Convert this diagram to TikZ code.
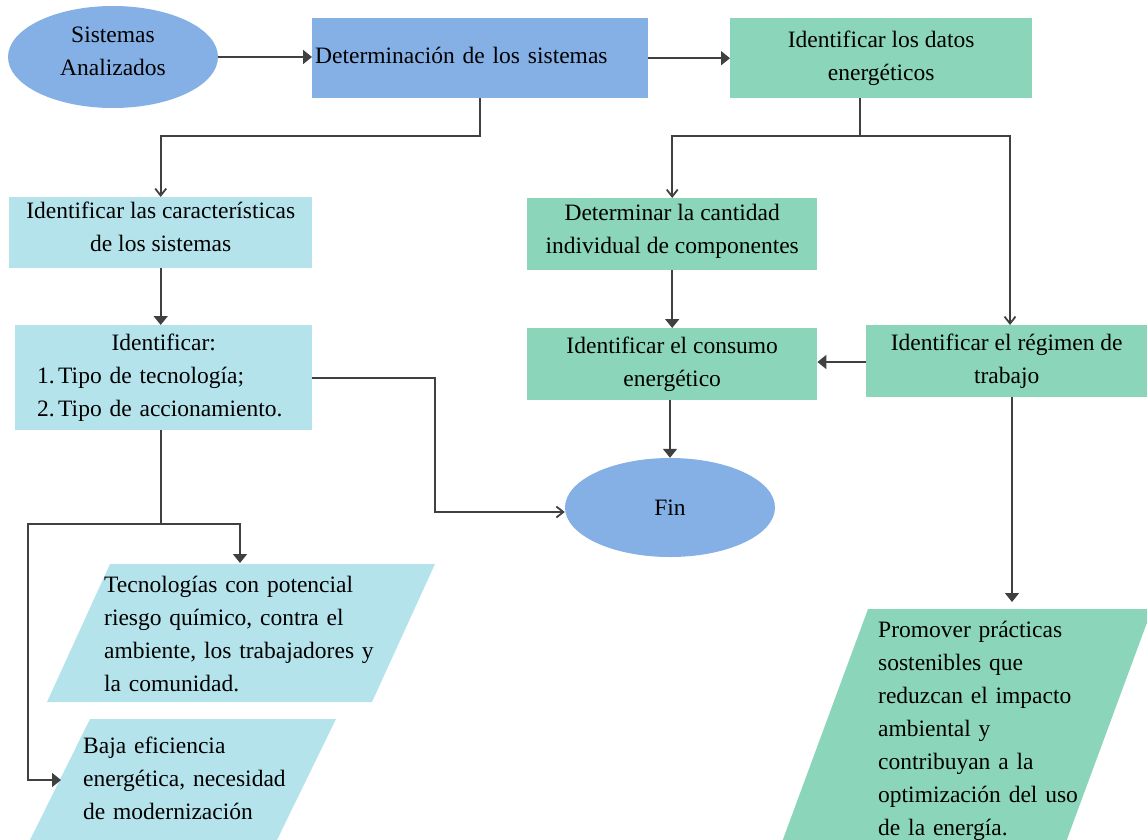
\documentclass[tikz,border=0pt]{standalone}
\usepackage{fontspec}
\setmainfont{Liberation Serif}
\usetikzlibrary{shapes.geometric,arrows.meta,calc}
\definecolor{cblue}{HTML}{84B0E6}
\definecolor{ccyan}{HTML}{B5E3EC}
\definecolor{cgreen}{HTML}{8BD5BB}
\definecolor{cline}{HTML}{404040}
\begin{document}
\begin{tikzpicture}[x=1pt,y=-1pt,
  txt/.style={font=\fontsize{23.5pt}{33pt}\selectfont, text=black},
  box/.style={txt, rectangle, inner sep=2pt, align=center, anchor=north west},
  oval/.style={txt, ellipse, inner sep=0pt, align=center, fill=cblue},
  para/.style={txt, anchor=base west, align=left, inner sep=0pt},
  conn/.style={draw=cline, line width=1.8pt},
  fa/.style={conn, -{Triangle[width=14pt,length=9pt]}},
  oa/.style={conn, -{Straight Barb[width=11pt,length=7pt]}},
]
\useasboundingbox (0,0) rectangle (1147,839);

% ovals
\node[oval, minimum width=210pt, minimum height=102pt, text depth=12pt] (sa) at (113,57) {Sistemas\\Analizados};
\node[oval, minimum width=210pt, minimum height=99pt] (fin) at (670,507.5) {Fin};

% boxes
\node[box, fill=cblue, minimum width=336pt, minimum height=80pt, text width=330pt, align=left] (det) at (312,18) {\raisebox{5pt}{Determinación de los sistemas}};
\node[box, fill=cgreen, minimum width=302pt, minimum height=80pt] (dat) at (730,18) {Identificar los datos\\energéticos};
\node[box, fill=ccyan, minimum width=303pt, minimum height=71pt, text depth=12pt] (car) at (9,197) {Identificar las características\\de los sistemas};
\node[box, fill=ccyan, minimum width=297pt, minimum height=105pt, text width=253pt, inner sep=0pt, align=left] (ide) at (15,325)
  {\makebox[253pt]{Identificar:}\\\makebox[21pt][l]{1.}Tipo de tecnología;\\\makebox[21pt][l]{2.}Tipo de accionamiento.};
\node[box, fill=cgreen, minimum width=290pt, minimum height=72pt, text depth=10pt] (can) at (527,198) {Determinar la cantidad\\individual de componentes};
\node[box, fill=cgreen, minimum width=290pt, minimum height=72pt] (con) at (527,328) {Identificar el consumo\\energético};
\node[box, fill=cgreen, minimum width=281pt, minimum height=72pt] (reg) at (866,325) {Identificar el régimen de\\trabajo};

% parallelograms
\fill[ccyan] (110,564) -- (435,564) -- (372,702) -- (47,702) -- cycle;
\node[para, text width=330pt] (tec) at (104,592) {Tecnologías con potencial\\riesgo químico, contra el\\ambiente, los trabajadores y\\la comunidad.};
\fill[ccyan] (90,719) -- (336,719) -- (276,842) -- (29,842) -- cycle;
\node[para, text width=250pt] (baj) at (83,753) {Baja eficiencia\\energética, necesidad\\de modernización};
\fill[cgreen] (868,609) -- (1152,609) -- (1066,842) -- (782,842) -- cycle;
\node[para, text width=260pt] (pro) at (878,637) {Promover prácticas\\sostenibles que\\reduzcan el impacto\\ambiental y\\contribuyan a la\\optimización del uso\\de la energía.};

\coordinate (tecin) at (240,563);
\coordinate (bajin) at (61,780);
\coordinate (proin) at (1012,602);
\coordinate (j1) at (161,524);
\coordinate (j2) at (860,136);

% connectors
\draw[fa] (sa.east) -- (sa.east -| det.west);
\draw[fa] (det.east) -- (dat.west);
\draw[oa] (det.south) -- (det.south |- 0,136) -| (car.north);
\draw[fa] (car.south) -- (car.south |- ide.north);
\draw[oa] (ide.east) -| (435,512) -- (fin.west |- 0,512);
\draw[conn] (ide.south -| j1) -- (j1);
\draw[fa] (j1) -| (tecin);
\draw[fa] (j1) -| (28,780) -- (bajin);
\draw[conn] (dat.south -| j2) -- (j2);
\draw[oa] (j2) -| (can.north);
\draw[oa] (j2) -| (reg.north -| 1010,0);
\draw[fa] (can.south) -- (con.north);
\draw[fa] (reg.west |- 0,362) -- (con.east |- 0,362);
\draw[fa] (con.south -| fin.north) -- (fin.north);
\draw[fa] (reg.south -| proin) -- (proin);
\end{tikzpicture}
\end{document}
